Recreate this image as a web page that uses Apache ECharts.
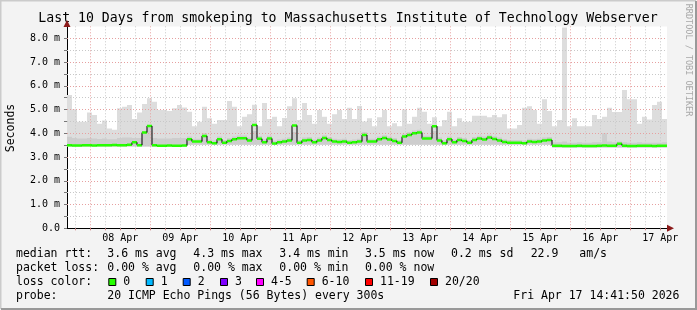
<!DOCTYPE html>
<html><head><meta charset="utf-8">
<script src="https://cdn.jsdelivr.net/npm/echarts@6/dist/echarts.min.js"></script>
<style>html,body{margin:0;padding:0;background:#f3f3f3}#c{width:697px;height:310px}</style>
</head><body><div id="c"></div>
<script>
// ---------- data (hours counted from Apr 7 00:00) ----------
const chartTitle = 'Last 10 Days from smokeping to Massachusetts Institute of Technology Webserver';
const startHour = 14.69722;      // Apr 7 14:41:50
const endHour = 254.69722;       // Apr 17 14:41:50
const binHours = 2;
const dayLabels = ['08 Apr','09 Apr','10 Apr','11 Apr','12 Apr','13 Apr','14 Apr','15 Apr','16 Apr','17 Apr'];
const dayLabelHours = [36,60,84,108,132,156,180,204,228,252];
const midnightHours = [24,48,72,96,120,144,168,192,216,240];
const sixHourHours = [18,30,36,42,54,60,66,78,84,90,102,108,114,126,132,138,150,156,162,174,180,186,198,204,210,222,228,234,246,252];
const yMajor = [1,2,3,4,5,6,7,8];
const yMinor = [0.5,1.5,2.5,3.5,4.5,5.5,6.5,7.5];

// median rtt per 2h bin (ms)
const median = [
3.50,3.49,3.49,3.50,3.50,3.49,3.50,3.50,3.50,3.51,3.50,3.50,3.52,3.62,3.50,4.03,4.31,3.50,3.48,3.48,
3.49,3.48,3.48,3.49,3.75,3.65,3.65,3.89,3.62,3.58,3.75,3.60,3.68,3.75,3.79,3.79,3.70,4.35,3.77,3.62,
3.78,3.57,3.62,3.65,3.70,4.33,3.60,3.70,3.72,3.62,3.70,3.80,3.72,3.65,3.63,3.65,3.60,3.62,3.65,3.93,
3.65,3.65,3.75,3.80,3.74,3.68,3.60,3.86,3.93,4.00,4.03,3.78,3.78,4.30,3.70,3.58,3.75,3.62,3.72,3.68,
3.60,3.72,3.78,3.74,3.82,3.76,3.70,3.63,3.60,3.60,3.60,3.58,3.65,3.63,3.65,3.70,3.72,3.48,3.48,3.47,
3.47,3.47,3.48,3.47,3.47,3.47,3.48,3.49,3.48,3.48,3.56,3.48,3.47,3.47,3.48,3.48,3.48,3.47,3.48,3.48];
// highest ping per bin (ms)
const smokeHi = [
5.61,5.01,4.49,4.49,4.87,4.77,4.40,4.54,4.20,4.15,5.05,5.12,5.19,4.60,4.88,5.23,5.47,5.33,4.98,4.98,
4.94,5.05,5.19,5.09,4.91,4.30,4.49,5.12,4.63,4.40,4.56,4.56,5.36,5.12,4.30,4.70,4.80,5.20,4.30,5.27,
4.60,4.70,4.30,4.64,5.14,5.47,4.56,5.27,4.77,4.40,4.98,4.70,4.40,4.80,4.98,4.60,5.07,4.60,5.15,4.50,
4.63,4.30,4.67,4.98,4.30,4.42,4.30,5.00,4.40,4.70,5.07,4.91,4.40,4.67,4.30,4.56,4.91,4.30,4.63,4.49,
4.49,4.74,4.74,4.74,4.67,4.77,4.67,4.80,4.20,4.20,4.35,5.07,5.14,4.98,4.40,5.43,4.94,4.30,4.56,8.45,
4.30,4.63,4.30,4.30,4.30,4.77,4.60,4.70,5.07,4.90,4.90,5.82,5.43,5.43,4.40,4.70,4.58,5.19,5.33,4.60];
// lowest ping per bin (ms)
const smokeLo = [
3.44,3.44,3.44,3.44,3.44,3.44,3.44,3.44,3.44,3.44,3.44,3.44,3.44,3.44,3.44,3.44,3.44,3.44,3.44,3.44,
3.44,3.44,3.44,3.44,3.52,3.52,3.52,3.52,3.52,3.52,3.52,3.52,3.52,3.52,3.52,3.52,3.52,3.52,3.52,3.52,
3.52,3.52,3.52,3.52,3.52,3.52,3.52,3.52,3.52,3.52,3.52,3.52,3.52,3.52,3.52,3.52,3.52,3.52,3.52,3.52,
3.52,3.52,3.52,3.52,3.52,3.52,3.52,3.52,3.52,3.52,3.52,3.52,3.52,3.52,3.52,3.52,3.52,3.52,3.52,3.52,
3.52,3.52,3.52,3.52,3.52,3.52,3.52,3.52,3.52,3.52,3.52,3.52,3.52,3.52,3.52,3.52,3.52,3.40,3.40,3.40,
3.40,3.40,3.40,3.40,3.40,3.40,3.40,3.40,3.40,3.40,3.40,3.40,3.40,3.40,3.40,3.40,3.40,3.40,3.40,3.40];
// upper edge of the dense (darker) part of the smoke per bin (ms)
const coreHi = [
3.85,3.80,3.78,3.78,3.80,3.78,3.76,3.78,3.75,3.75,3.80,3.82,3.82,3.80,3.80,4.10,4.35,3.80,3.78,3.78,
3.78,3.80,3.80,3.80,3.87,3.77,3.77,4.01,3.74,3.70,3.87,3.72,3.80,3.87,3.91,3.91,3.82,4.10,3.89,3.74,
3.90,3.69,3.74,3.77,3.82,4.05,3.72,3.82,3.84,3.74,3.82,3.92,3.84,3.77,3.75,3.77,3.72,3.74,3.77,4.05,
3.77,3.77,3.87,3.92,3.86,3.80,3.72,3.98,4.05,4.12,4.15,3.90,3.90,4.10,3.82,3.70,3.87,3.74,3.84,3.80,
3.72,3.84,3.90,3.86,3.94,3.88,3.82,3.75,3.72,3.72,3.72,3.70,3.77,3.75,3.77,3.82,3.84,3.62,3.62,3.65,
3.60,3.60,3.62,3.60,3.60,3.62,3.62,4.00,3.65,3.62,3.65,3.62,3.60,3.60,3.62,3.60,3.60,3.60,3.60,3.62];

const lossLabels = ['0','1','2','3','4-5','6-10','11-19','20/20'];
const lossColors = ['#26ff00','#00b8ff','#0059ff','#7e00ff','#ff00ff','#ff5500','#ff0000','#a10000'];
const rttStats = ['3.6 ms avg','4.3 ms max','3.4 ms min','3.5 ms now','0.2 ms sd','22.9','am/s'];
const lossStats = ['0.00 % avg','0.00 % max','0.00 % min','0.00 % now'];
const probeText = '20 ICMP Echo Pings (56 Bytes) every 300s';
const stampText = 'Fri Apr 17 14:41:50 2026';

// ---------- build ----------
const MONO = 'DejaVu Sans Mono';
const binData = median.map((m, i) => [startHour + i * binHours, startHour + (i + 1) * binHours,
  smokeLo[i], smokeHi[i], coreHi[i], m, i > 0 ? median[i - 1] : m]);

function rectItem(api, yLoDim, yHiDim, fill) {
  const a = api.coord([api.value(0), api.value(yHiDim)]);
  const b = api.coord([api.value(1), api.value(yLoDim)]);
  return {type: 'rect', shape: {x: a[0], y: a[1], width: b[0] - a[0], height: b[1] - a[1]},
          style: {fill: fill}};
}

const gridLines = [];
midnightHours.forEach(h => gridLines.push({xAxis: h, lineStyle: {color: '#e6a0a0', type: [1, 2], width: 1}}));
sixHourHours.forEach(h => gridLines.push({xAxis: h, lineStyle: {color: '#c8c8c8', type: [1, 2], width: 1}}));
yMajor.forEach(v => gridLines.push({yAxis: v, lineStyle: {color: '#e6a0a0', type: [1, 2], width: 1}}));
yMinor.forEach(v => gridLines.push({yAxis: v, lineStyle: {color: '#c8c8c8', type: [1, 2], width: 1}}));

const graphics = [];
// frame
graphics.push({type: 'rect', shape: {x: 0, y: 0, width: 697, height: 310}, style: {fill: '#f3f3f3'}, z: -10});
graphics.push({type: 'polyline', shape: {points: [[0.5, 309], [0.5, 0.5], [696, 0.5]]}, style: {stroke: '#cbcbcb', lineWidth: 2, fill: null}});
graphics.push({type: 'polyline', shape: {points: [[1, 309], [696, 309], [696, 1]]}, style: {stroke: '#999999', lineWidth: 2, fill: null}});
// title
graphics.push({type: 'text', x: 348, y: 19, style: {text: chartTitle, font: '13.2px ' + MONO, fill: '#000', align: 'center', verticalAlign: 'middle'}});
graphics.push({type: 'text', x: 11, y: 128, rotation: Math.PI / 2, style: {text: 'Seconds', font: '11.5px ' + MONO, fill: '#000', align: 'center', verticalAlign: 'middle'}});
graphics.push({type: 'text', x: 688, y: 60, rotation: -Math.PI / 2, style: {text: 'RRDTOOL / TOBI OETIKER', font: '8.5px ' + MONO, fill: '#a8a8a8', align: 'center', verticalAlign: 'middle'}});
// axis arrows
graphics.push({type: 'polygon', shape: {points: [[63.5, 27], [70.5, 27], [67, 20]]}, style: {fill: '#8b1a1a'}, z: 20});
graphics.push({type: 'polygon', shape: {points: [[667, 224.8], [667, 231.8], [674, 228.3]]}, style: {fill: '#8b1a1a'}, z: 20});
// legend text
function txt(s, x, y) { graphics.push({type: 'text', x: x, y: y, style: {text: s, font: '11.5px ' + MONO, fill: '#000', verticalAlign: 'middle'}}); }
txt('median rtt:', 16, 254);
[107.3, 193.3, 279.3, 365, 451, 530.7, 579.3].forEach((x, i) => txt(rttStats[i], x, 254));
txt('packet loss:', 16, 268);
[107.3, 193.3, 279.3, 365].forEach((x, i) => txt(lossStats[i], x, 268));
txt('loss color:', 16, 282);
const boxX = [108.3, 145.7, 182.7, 220, 256, 306.7, 365, 430];
lossLabels.forEach((l, i) => {
  graphics.push({type: 'rect', shape: {x: boxX[i] + 0.5, y: 278.5, width: 7, height: 7}, style: {fill: lossColors[i], stroke: '#000', lineWidth: 1}});
  txt(l, boxX[i] + 15, 282);
});
txt('probe:', 16, 296);
txt(probeText, 107.3, 296);
txt(stampText, 513.3, 296);

const option = {
  animation: false,
  backgroundColor: '#f3f3f3',
  grid: {left: 67, right: 30, top: 26.4, bottom: 81.7, show: true, backgroundColor: '#ffffff', borderWidth: 0, outerBoundsMode: 'none', containLabel: false},
  xAxis: {
    type: 'value', min: startHour, max: endHour,
    axisLine: {show: true, onZero: false, lineStyle: {color: '#000', width: 1}},
    axisTick: {show: true, customValues: sixHourHours.concat(midnightHours), length: 2, inside: false, lineStyle: {color: '#d08080'}},
    splitLine: {show: false},
    axisLabel: {customValues: dayLabelHours, formatter: v => dayLabels[dayLabelHours.indexOf(Math.round(v))] || '',
      fontFamily: MONO, fontSize: 10, color: '#000', margin: 5}
  },
  yAxis: {
    type: 'value', min: 0, max: 8.5, interval: 0.5,
    axisLine: {show: true, lineStyle: {color: '#000', width: 1}},
    axisTick: {show: true, length: 3, lineStyle: {color: '#777'}},
    splitLine: {show: false},
    axisLabel: {showMaxLabel: false, fontFamily: MONO, fontSize: 10, color: '#000', margin: 7,
      formatter: v => (Math.abs(v - Math.round(v)) > 0.01) ? '' : (v === 0 ? '0.0' : v.toFixed(1) + ' m')}
  },
  series: [
    {type: 'custom', name: 'smoke', data: binData, z: 1, silent: true, clip: true,
     renderItem: (p, api) => rectItem(api, 2, 3, '#dddddd')},
    {type: 'custom', name: 'core', data: binData, z: 2, silent: true, clip: true,
     renderItem: (p, api) => rectItem(api, 2, 4, '#cdcdcd')},
    {type: 'line', name: 'grid', data: [], z: 3, silent: true,
     markLine: {symbol: ['none', 'none'], silent: true, animation: false, label: {show: false}, emphasis: {disabled: true}, data: gridLines}},
    {type: 'custom', name: 'median', data: binData, z: 5, silent: true, clip: true,
     renderItem: (p, api) => {
       const a = api.coord([api.value(0), api.value(5)]);
       const b = api.coord([api.value(1), api.value(5)]);
       const pv = api.coord([api.value(0), api.value(6)]);
       return {type: 'group', children: [
         {type: 'line', shape: {x1: a[0], y1: pv[1], x2: a[0], y2: a[1]}, style: {stroke: '#000', lineWidth: 1}},
         {type: 'line', shape: {x1: a[0], y1: a[1], x2: b[0], y2: b[1]}, style: {stroke: '#26ff00', lineWidth: 2.5}}
       ]};
     }}
  ],
  graphic: {elements: graphics}
};
const chart = echarts.init(document.getElementById('c'), null, {renderer: 'canvas'});
chart.setOption(option);
</script></body></html>
